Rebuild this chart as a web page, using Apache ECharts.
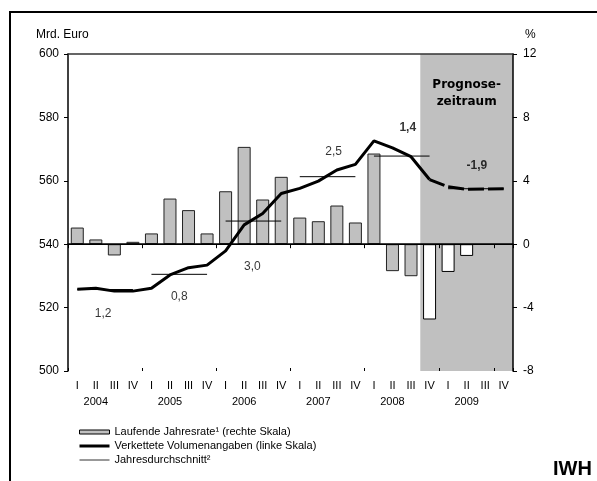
<!DOCTYPE html>
<html><head><meta charset="utf-8">
<script src="https://cdn.jsdelivr.net/npm/echarts@6/dist/echarts.min.js"></script>
<style>html,body{margin:0;padding:0;background:#fff}#c{width:597px;height:481px}</style>
</head><body><div id="c"></div>
<script>
// ---- data ----
const years = ['2004', '2005', '2006', '2007', '2008', '2009'];
const quarters = ['I', 'II', 'III', 'IV'];
const categories = years.flatMap(y => quarters.map(q => q + ' ' + y));
// Verkettete Volumenangaben, Mrd. Euro (left axis)
const volume = [525.8, 526.1, 525.2, 525.2, 526.1, 530.3, 532.6, 533.4, 537.9, 546.1, 549.7, 556.0,
                557.6, 559.9, 563.4, 565.2, 572.6, 570.4, 567.6, 560.4, 558.1, 557.3, 557.4, 557.5];
// Laufende Jahresrate, % (right axis)
const rate = [1.05, 0.30, -0.71, 0.15, 0.68, 2.88, 2.15, 0.68, 3.34, 6.14, 2.82, 4.25,
              1.68, 1.45, 2.44, 1.37, 5.72, -1.70, -2.02, -4.75, -1.75, -0.74, null, null];
// Jahresdurchschnitt (level) and annual growth label
const yearAvg = [525.7, 530.5, 547.3, 561.3, 567.8, 557.5];
const yearGrowth = [1.2, 0.8, 3.0, 2.5, 1.4, -1.9];
const forecastStart = 19;          // first forecast quarter index (IV 2008)
const leftScale = [500, 600, 20];
const rightScale = [-8, 12, 4];

const barName = 'Laufende Jahresrate¹ (rechte Skala)';
const lineName = 'Verkettete Volumenangaben (linke Skala)';
const avgName = 'Jahresdurchschnitt²';
const forecastText = 'Prognose-\nzeitraum';

// ---- styling of annotation labels (offsets in px) ----
const growthLabelOffset = [[-2, 24], [0, 22], [-1, 46], [6, -25], [6, -28], [1, -23]];
const FONT = 'Liberation Sans';
const fmt = v => v.toFixed(1).replace('.', ',');

const avgSeries = years.map((y, k) => ({
  type: 'line', name: avgName, xAxisIndex: 2, yAxisIndex: 0,
  data: [[4 * k + 0.5, yearAvg[k]], [4 * k + 3.5, yearAvg[k]]],
  symbol: 'none', silent: true, z: 3,
  lineStyle: { color: '#000', width: 1 }, itemStyle: { color: '#000' },
  markArea: k === 0 ? {
    silent: true,
    itemStyle: { color: '#c0c0c0', opacity: 1 },
    label: { show: true, position: 'insideTop', distance: 22, color: '#000',
             fontFamily: 'DejaVu Sans', fontWeight: 'bold', fontSize: 12, lineHeight: 17,
             formatter: forecastText },
    data: [[{ xAxis: forecastStart }, { xAxis: categories.length }]]
  } : undefined
}));

const chart = echarts.init(document.getElementById('c'), null, { renderer: 'canvas' });
chart.setOption({
  animation: false,
  backgroundColor: '#fff',
  textStyle: { fontFamily: FONT, color: '#000' },
  grid: { left: 68, right: 84, top: 54, bottom: 110, containLabel: false, outerBoundsMode: 'none' },
  legend: {
    orient: 'vertical', left: 73, top: 420, itemWidth: 30, itemHeight: 4, itemGap: 0,
    textStyle: { fontSize: 11, color: '#000', fontFamily: FONT, lineHeight: 14 },
    selectedMode: false,
    data: [
      { name: barName, icon: 'rect', itemStyle: { color: '#c0c0c0', borderColor: '#000', borderWidth: 1 } },
      { name: lineName, itemStyle: { opacity: 0 }, lineStyle: { width: 3, color: '#000' } },
      { name: avgName, itemStyle: { opacity: 0 }, lineStyle: { width: 1, color: '#333' } }
    ]
  },
  xAxis: [
    { type: 'category', data: categories, position: 'bottom', z: 5,
      axisLine: { show: true, lineStyle: { color: '#000', width: 1.5 } },
      axisTick: { show: true, interval: 3, length: 4, lineStyle: { color: '#000', width: 1 } },
      axisLabel: { interval: 0, margin: 9, fontSize: 11, color: '#000', fontFamily: FONT,
                   formatter: (v, i) => quarters[i % 4] },
      splitLine: { show: false } },
    { type: 'category', data: categories, position: 'bottom', z: 5,
      axisLine: { show: false },
      axisTick: { show: true, inside: true, interval: 3, length: 3, lineStyle: { color: '#000', width: 1 } },
      axisLabel: { interval: 0, margin: 25, fontSize: 11, color: '#000', fontFamily: FONT,
                   formatter: (v, i) => (i % 4 === 1 ? years[Math.floor(i / 4)] : '') },
      splitLine: { show: false } },
    { type: 'value', min: 0, max: categories.length, position: 'top', z: 5,
      axisLine: { show: true, lineStyle: { color: '#333', width: 1.5 } },
      axisTick: { show: false }, axisLabel: { show: false }, splitLine: { show: false } }
  ],
  yAxis: [
    { type: 'value', min: leftScale[0], max: leftScale[1], interval: leftScale[2], position: 'left', z: 5,
      axisLine: { show: true, lineStyle: { color: '#000', width: 1.5 } },
      axisTick: { show: true, length: 4, lineStyle: { color: '#000' } },
      axisLabel: { margin: 9, fontSize: 12, color: '#000', fontFamily: FONT },
      splitLine: { show: false } },
    { type: 'value', min: rightScale[0], max: rightScale[1], interval: rightScale[2], position: 'right', z: 5,
      axisLine: { show: true, lineStyle: { color: '#000', width: 1.5 } },
      axisTick: { show: true, length: 4, lineStyle: { color: '#000' } },
      axisLabel: { margin: 10, fontSize: 12, color: '#000', fontFamily: FONT },
      splitLine: { show: false } }
  ],
  series: [
    { type: 'bar', name: barName, xAxisIndex: 0, yAxisIndex: 1, stack: 'rate', barWidth: 13, z: 2,
      data: rate.map((v, i) => (i < forecastStart && v != null ? v : '-')),
      itemStyle: { color: '#c0c0c0', borderColor: '#222', borderWidth: 1 },
      markLine: { silent: true, symbol: ['none', 'none'], label: { show: false },
                  lineStyle: { color: '#000', width: 1.2, type: 'solid' }, data: [{ yAxis: 0 }] } },
    { type: 'bar', name: 'Prognose Jahresrate', xAxisIndex: 0, yAxisIndex: 1, stack: 'rate', barWidth: 13, z: 2,
      data: rate.map((v, i) => (i >= forecastStart && v != null ? v : '-')),
      itemStyle: { color: '#fff', borderColor: '#000', borderWidth: 1 } },
    ...avgSeries,
    { type: 'line', name: lineName, xAxisIndex: 0, yAxisIndex: 0, z: 4,
      data: volume.map((v, i) => (i <= forecastStart ? v : '-')),
      symbol: 'none', lineStyle: { color: '#000', width: 3 }, itemStyle: { color: '#000' } },
    { type: 'line', name: 'Prognose Volumen', xAxisIndex: 0, yAxisIndex: 0, z: 4,
      data: volume.map((v, i) => (i >= forecastStart ? v : '-')),
      symbol: 'none', lineStyle: { color: '#000', width: 3, type: [16, 4], cap: 'butt' }, itemStyle: { color: '#000' } },
    { type: 'scatter', name: 'Wachstum', xAxisIndex: 2, yAxisIndex: 0, z: 6, silent: true,
      symbol: 'circle', symbolSize: 0.01, itemStyle: { color: 'rgba(0,0,0,0)' },
      data: years.map((y, k) => ({
        value: [4 * k + 2, yearAvg[k]],
        label: { offset: growthLabelOffset[k], fontWeight: k >= 4 ? 'bold' : 'normal' }
      })),
      label: { show: true, position: 'inside', fontSize: 12, color: '#000', fontFamily: FONT,
               formatter: p => fmt(yearGrowth[p.dataIndex]) } }
  ],
  graphic: [
    { type: 'rect', silent: true, shape: { x: 10, y: 12, width: 620, height: 500 },
      style: { fill: 'rgba(0,0,0,0)', stroke: '#000', lineWidth: 2 } },
    { type: 'text', left: 36, top: 29, silent: true,
      style: { text: 'Mrd. Euro', font: '12px "Liberation Sans"', fill: '#000' } },
    { type: 'text', left: 525, top: 29, silent: true,
      style: { text: '%', font: '12px "Liberation Sans"', fill: '#000' } },
    { type: 'text', left: 553, top: 459, silent: true,
      style: { text: 'IWH', font: 'bold 20px "Liberation Sans"', fill: '#000' } }
  ]
});
</script>
</body></html>
